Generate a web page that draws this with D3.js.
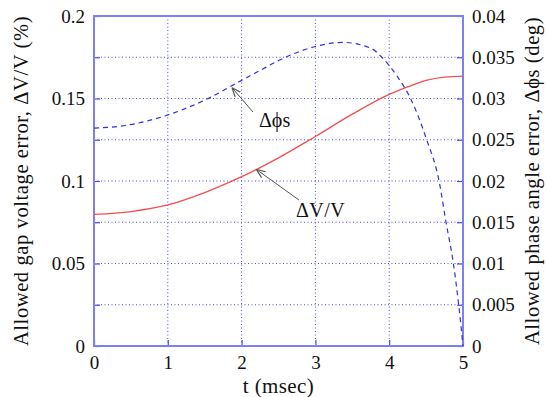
<!DOCTYPE html>
<meta charset="utf-8">
<script src="https://d3js.org/d3.v7.min.js"></script>
<style>
  body { margin: 0; background: #fff; }
  text { font-family: "Liberation Serif", "Times New Roman", serif; fill: #111; }
</style>
<svg id="chart" width="547" height="397"></svg>
<script>

// time axis (msec)
var tVals = [0, 0.5, 1, 1.5, 2, 2.5, 3, 3.5, 4, 4.25, 4.5, 4.75, 5];
// allowed gap voltage error dV/V (%), left axis
var dvVals = [0.0798, 0.0815, 0.0855, 0.093, 0.1026, 0.114, 0.127, 0.1405, 0.1525, 0.157, 0.161, 0.163, 0.1636];

// allowed phase angle error (deg), right axis
var tPhi = [0, 0.4, 1, 1.5, 2, 2.25, 2.5, 3, 3.37, 3.75, 3.9, 4.1, 4.3, 4.5, 4.68, 4.77, 4.87, 4.94, 5];
var phiVals = [0.0264, 0.0267, 0.028, 0.0298, 0.0322, 0.0334, 0.0346, 0.0363, 0.0368, 0.0361, 0.035, 0.0328, 0.0298, 0.0252, 0.0198, 0.015, 0.010, 0.0051, 0.0];

var xTicks = [0, 1, 2, 3, 4, 5];
var leftTicks = [0, 0.05, 0.1, 0.15, 0.2];
var rightTicks = [0, 0.005, 0.01, 0.015, 0.02, 0.025, 0.03, 0.035, 0.04];

var svg = d3.select("#chart");
var pLeft = 94, pRight = 463, pTop = 16, pBottom = 346;

var x = d3.scaleLinear().domain([0, 5]).range([pLeft, pRight]);
var yL = d3.scaleLinear().domain([0, 0.2]).range([pBottom, pTop]);
var yR = d3.scaleLinear().domain([0, 0.04]).range([pBottom, pTop]);

var gridColor = "#4a4aee";
var frameColor = "#7f7ff2";

// grid
var grid = svg.append("g");
grid.selectAll(".gx")
  .data(xTicks.slice(1, -1))
  .enter().append("line")
    .attr("x1", d => x(d)).attr("x2", d => x(d))
    .attr("y1", pTop).attr("y2", pBottom)
    .attr("stroke", gridColor).attr("stroke-width", 1)
    .attr("stroke-dasharray", "1,2.5");
grid.selectAll(".gy")
  .data(rightTicks.slice(1, -1))
  .enter().append("line")
    .attr("x1", pLeft).attr("x2", pRight)
    .attr("y1", d => yR(d)).attr("y2", d => yR(d))
    .attr("stroke", gridColor).attr("stroke-width", 1)
    .attr("stroke-dasharray", "1,2.5");

// axes
var xAxis = d3.axisBottom(x).tickValues(xTicks).tickSize(-6).tickPadding(10).tickFormat(d3.format("d"));
var lAxis = d3.axisLeft(yL).tickValues(d3.range(0, 0.2001, 0.025)).tickSize(-6).tickPadding(9)
  .tickFormat(d => leftTicks.some(v => Math.abs(v - d) < 1e-9) ? String(+d.toFixed(3)) : "");
var rAxis = d3.axisRight(yR).tickValues(rightTicks).tickSize(-6).tickPadding(9)
  .tickFormat(d => String(+d.toFixed(3)));

function styleAxis(g) {
  g.select(".domain").remove();
  g.selectAll(".tick line").attr("stroke", gridColor).attr("stroke-width", 1.2);
  g.selectAll("text").attr("font-size", 19).style("font-family", '"Liberation Serif", serif').attr("fill", "#111");
}

svg.append("g").attr("transform", "translate(0," + pBottom + ")").call(xAxis).call(styleAxis);
svg.append("g").attr("transform", "translate(" + pLeft + ",0)").call(lAxis).call(styleAxis);
svg.append("g").attr("transform", "translate(" + pRight + ",0)").call(rAxis).call(styleAxis);

// frame
svg.append("rect")
  .attr("x", pLeft).attr("y", pTop)
  .attr("width", pRight - pLeft).attr("height", pBottom - pTop)
  .attr("fill", "none").attr("stroke", frameColor).attr("stroke-width", 2);

// curves
var dvLine = d3.line()
  .x((d, i) => x(tVals[i]))
  .y(d => yL(d))
  .curve(d3.curveMonotoneX);
var phiLine = d3.line()
  .x((d, i) => x(tPhi[i]))
  .y(d => yR(d))
  .curve(d3.curveMonotoneX);

svg.append("path")
  .datum(dvVals)
  .attr("d", dvLine)
  .attr("fill", "none")
  .attr("stroke", "#f25050")
  .attr("stroke-width", 1.3);

svg.append("path")
  .datum(phiVals)
  .attr("d", phiLine)
  .attr("fill", "none")
  .attr("stroke", "#3030e0")
  .attr("stroke-width", 1.2)
  .attr("stroke-dasharray", "5,4");

// annotation arrows
svg.append("defs").append("marker")
  .attr("id", "arr")
  .attr("viewBox", "0 0 10 10")
  .attr("refX", 10).attr("refY", 5)
  .attr("markerWidth", 9).attr("markerHeight", 9)
  .attr("markerUnits", "userSpaceOnUse")
  .attr("orient", "auto")
  .append("path")
    .attr("d", "M0,1 L10,5 L0,9")
    .attr("fill", "none")
    .attr("stroke", "#555")
    .attr("stroke-width", 1.3);

function arrow(x1, y1, x2, y2) {
  svg.append("line")
    .attr("x1", x1).attr("y1", y1).attr("x2", x2).attr("y2", y2)
    .attr("stroke", "#555").attr("stroke-width", 1)
    .attr("marker-end", "url(#arr)");
}

arrow(253, 112, x(1.87), yR(0.0313));
arrow(299, 200, x(2.2), yL(0.107));

svg.append("text")
  .attr("x", 259).attr("y", 127)
  .attr("font-size", 20)
  .text("Δϕs");

svg.append("text")
  .attr("x", 296).attr("y", 217)
  .attr("font-size", 20)
  .attr("letter-spacing", 0.5)
  .text("ΔV/V");

// axis titles
svg.append("text")
  .attr("x", (pLeft + pRight) / 2).attr("y", 393)
  .attr("text-anchor", "middle")
  .attr("font-size", 21)
  .attr("letter-spacing", 0.4)
  .text("t (msec)");

svg.append("text")
  .attr("transform", "translate(28," + ((pTop + pBottom) / 2) + ") rotate(-90)")
  .attr("text-anchor", "middle")
  .attr("font-size", 20.5)
  .attr("letter-spacing", 0.6)
  .text("Allowed gap voltage error, ΔV/V (%)");

svg.append("text")
  .attr("transform", "translate(539," + ((pTop + pBottom) / 2) + ") rotate(-90)")
  .attr("text-anchor", "middle")
  .attr("font-size", 20.5)
  .attr("letter-spacing", 0.6)
  .text("Allowed phase angle error, Δϕs (deg)");

</script>
